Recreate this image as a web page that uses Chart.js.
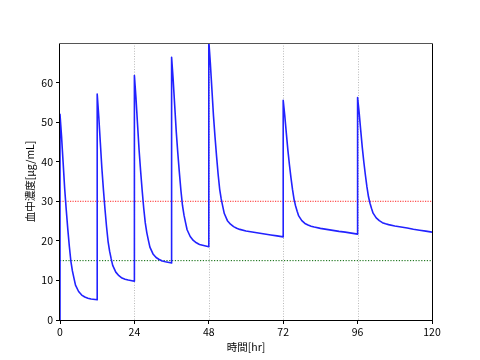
<!DOCTYPE html>
<html><head><meta charset="utf-8">
<script src="https://cdn.jsdelivr.net/npm/chart.js@4.4.1/dist/chart.umd.min.js"></script>
<style>html,body{margin:0;padding:0;background:#fff;}</style>
</head><body>
<canvas id="c" width="480" height="360"></canvas>
<script>
// ---- data ----
const doseTimes = [0, 12, 24, 36, 48, 72, 96];            // hr
const startConc = 0;                                       // before first dose
const offsets12 = [0,0.25,0.5,0.75,1,1.5,2,2.5,3,3.5,4,4.5,5,6,7,8,9,10,12];
const offsets24 = [0,0.25,0.5,0.75,1,1.5,2,2.5,3,3.5,4,4.5,5,6,7,8,9,10,12,14,16,18,20,22,24];
const conc1 = [52.0,49.2,46.4,43.1,39.9,33.3,28.0,23.1,18.7,14.9,12.4,10.6,8.8,7.2,6.3,5.8,5.5,5.3,5.1];
const conc2 = [57.1,54.3,51.5,48.2,44.9,38.4,33.0,28.1,23.7,19.9,17.4,15.5,13.8,12.1,11.2,10.6,10.3,10.1,9.8];
const conc3 = [61.8,59.0,56.2,52.9,49.6,43.1,37.7,32.8,28.3,24.6,22.1,20.2,18.4,16.7,15.8,15.3,14.9,14.7,14.4];
const conc4 = [66.4,63.6,60.8,57.5,54.2,47.6,42.2,37.3,32.8,29.0,26.5,24.6,22.8,21.1,20.1,19.5,19.1,18.9,18.5];
const conc5 = [70.5,67.7,64.9,61.6,58.3,51.7,46.3,41.4,36.9,33.1,30.6,28.7,26.9,25.1,24.2,23.6,23.2,22.9,22.5,22.25,22.0,21.75,21.5,21.25,21.0];
const conc6 = [55.5,53.6,51.7,49.5,47.3,43.0,39.3,36.0,33.0,30.5,28.8,27.5,26.3,25.1,24.4,24.0,23.7,23.5,23.15,22.9,22.65,22.4,22.2,21.95,21.7];
const conc7 = [56.2,54.3,52.4,50.2,48.0,43.7,40.0,36.7,33.7,31.2,29.5,28.2,27.0,25.8,25.1,24.6,24.3,24.1,23.75,23.5,23.25,22.95,22.7,22.45,22.2];
const segments = [conc1, conc2, conc3, conc4, conc5, conc6, conc7];
const upperLimit = 30;   // red dotted
const lowerLimit = 15;   // green dotted
const xRange = [0, 120];
const yRange = [0, 70];
const xTickStep = 24;
const yTickStep = 10;
const xLabel = '時間[hr]';
const yLabel = '血中濃度[μg/mL]';

// ---- build points ----
const curve = [{x: doseTimes[0], y: startConc}];
doseTimes.forEach((t0, i) => {
  const seg = segments[i];
  const offs = seg.length === offsets24.length ? offsets24 : offsets12;
  seg.forEach((v, j) => curve.push({x: t0 + offs[j], y: v}));
});

const FONT = "'Noto Sans CJK JP', 'DejaVu Sans', sans-serif";

const gridPlugin = {
  id: 'vgrid',
  beforeDatasetsDraw(chart) {
    const {ctx, chartArea: a, scales: {x}} = chart;
    ctx.save();
    ctx.strokeStyle = 'rgba(0,0,0,0.35)';
    ctx.lineWidth = 0.8;
    ctx.setLineDash([1, 1.6]);
    x.ticks.forEach(t => {
      if (t.value <= xRange[0] || t.value >= xRange[1]) return;
      const px = Math.round(x.getPixelForValue(t.value)) + 0.5;
      ctx.beginPath(); ctx.moveTo(px, a.top); ctx.lineTo(px, a.bottom); ctx.stroke();
    });
    ctx.restore();
  },
  afterDatasetsDraw(chart) {
    const {ctx, chartArea: a} = chart;
    ctx.save();
    ctx.lineWidth = 1;
    ctx.strokeStyle = '#000';
    const L = Math.round(a.left) - 0.5, R = Math.round(a.right) + 0.5;
    const T = Math.round(a.top) + 0.5, B = Math.round(a.bottom) + 0.5;
    ctx.beginPath();
    ctx.moveTo(L, T); ctx.lineTo(L, B); ctx.lineTo(R, B); ctx.lineTo(R, T);
    ctx.stroke();
    ctx.strokeStyle = '#555';
    ctx.beginPath(); ctx.moveTo(L, T); ctx.lineTo(R, T); ctx.stroke();
    ctx.restore();
  }
};

new Chart(document.getElementById('c'), {
  type: 'line',
  data: {
    datasets: [
      {data: curve, borderColor: '#2222ff', borderWidth: 1.6, pointRadius: 0, tension: 0,
       borderDash: [10000, 0], borderJoinStyle: 'round'},
      {data: [{x: xRange[0], y: upperLimit}, {x: xRange[1], y: upperLimit}],
       borderColor: 'rgba(255,0,0,0.85)', borderWidth: 1, borderDash: [1.2, 1.3], pointRadius: 0},
      {data: [{x: xRange[0], y: lowerLimit}, {x: xRange[1], y: lowerLimit}],
       borderColor: '#006400', borderWidth: 1, borderDash: [1.2, 1.6], pointRadius: 0}
    ]
  },
  options: {
    responsive: false, animation: false, events: [],
    plugins: {legend: {display: false}, tooltip: {enabled: false}},
    layout: {padding: {left: 0, right: 48, top: 43, bottom: 0}},
    scales: {
      x: {
        type: 'linear', min: xRange[0], max: xRange[1],
        ticks: {stepSize: xTickStep, color: '#000', font: {size: 10.5, family: FONT}, padding: 2, maxRotation: 0, autoSkip: false},
        grid: {drawOnChartArea: false, tickLength: 4, tickColor: '#000', tickWidth: 1},
        border: {display: false},
        title: {display: true, text: xLabel, color: '#000', font: {size: 10.5, family: FONT}, padding: {top: 0, bottom: 7}},
        afterFit(s) { s.height = 40; }
      },
      y: {
        type: 'linear', min: yRange[0], max: yRange[1],
        ticks: {stepSize: yTickStep, color: '#000', font: {size: 10.5, family: FONT}, padding: 3},
        afterBuildTicks(s) { s.ticks = s.ticks.filter(t => t.value < yRange[1]); },
        grid: {drawOnChartArea: false, tickLength: 4, tickColor: '#000', tickWidth: 1},
        border: {display: false},
        title: {display: true, text: yLabel, color: '#000', font: {size: 10.5, family: FONT}, padding: {top: 24, bottom: 0}},
        afterFit(s) { s.width = 60; }
      }
    }
  },
  plugins: [gridPlugin]
});
</script>
</body></html>
